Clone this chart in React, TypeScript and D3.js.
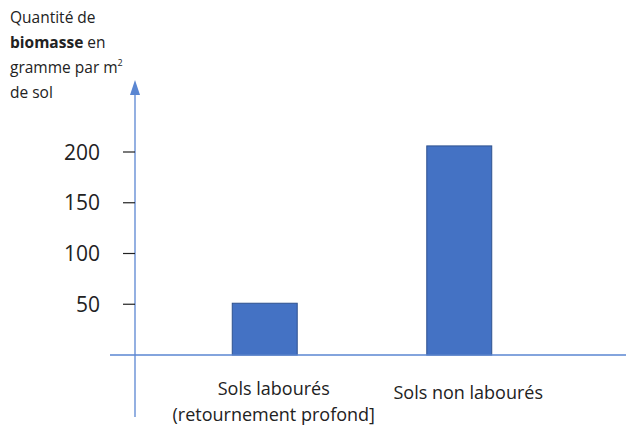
import { useMemo } from 'react'
import { scaleLinear, scaleBand } from 'd3'

// Biomass per m² of soil, ploughed vs. not ploughed.
const categories = ['Sols labourés', 'Sols non labourés']
const categoryLines = [['Sols labourés', '(retournement profond]'], ['Sols non labourés']]
const values = [51, 206]
const tickValues = [50, 100, 150, 200]
const titleLines = [
  [{ t: 'Quantité de', b: false }],
  [{ t: 'biomasse', b: true }, { t: ' en', b: false }],
  [{ t: 'gramme par m', b: false }, { t: '2', b: false, sup: true }],
  [{ t: 'de sol', b: false }],
]

const W = 626
const H = 426
const AXIS = '#5a86d2'
const BAR = '#4472c4'
const BAR_EDGE = '#2f528f'
const FONT = '"Open Sans", "Liberation Sans", sans-serif'

export default function App() {
  const ax = 135
  const base = 355
  const y = useMemo(() => scaleLinear().domain([0, 200]).range([base, 152]), [])
  const x = useMemo(
    () => scaleBand<string>().domain(categories).range([135, 589]).paddingInner(0.666).paddingOuter(0.5),
    [],
  )

  return (
    <svg width={W} height={H} style={{ position: 'absolute', left: 0, top: 0, background: '#fff' }} fontFamily={FONT}>
      {/* title, top left */}
      <text fontSize={15.5} fill="#222">
        {titleLines.map((ln, i) => (
          <tspan key={i} x={10} y={23 + i * 25}>
            {ln.map((s: any, j) =>
              s.sup ? (
                <tspan key={j} fontSize={9} dy={-7}>{s.t}</tspan>
              ) : (
                <tspan key={j} fontWeight={s.b ? 700 : 400}>{s.t}</tspan>
              ),
            )}
          </tspan>
        ))}
      </text>

      {/* bars */}
      {categories.map((c, i) => (
        <rect
          key={c}
          x={x(c)}
          y={y(values[i])}
          width={x.bandwidth()}
          height={base - y(values[i])}
          fill={BAR}
          stroke={BAR_EDGE}
          strokeWidth={1}
        />
      ))}

      {/* axes */}
      <line x1={110} x2={W} y1={base} y2={base} stroke={AXIS} strokeWidth={1.3} />
      <line x1={ax} x2={ax} y1={92} y2={417} stroke={AXIS} strokeWidth={1.3} />
      <path d={`M${ax},80 L${ax - 5},95 L${ax + 5},95 Z`} fill={AXIS} />

      {/* ticks */}
      {tickValues.map((v) => (
        <g key={v}>
          <line x1={123} x2={ax} y1={y(v)} y2={y(v)} stroke="#222" strokeWidth={1.2} />
          <text x={100} y={y(v)} dy="0.36em" textAnchor="end" fontSize={21} fill="#222">
            {v}
          </text>
        </g>
      ))}

      {/* category labels */}
      {categories.map((c, i) => (
        <text key={c} textAnchor="middle" fontSize={18} fill="#222">
          {categoryLines[i].map((l, k) => (
            <tspan key={k} x={x(c)! + x.bandwidth() / 2 + 9} y={(i === 0 ? 395 : 399) + k * 26}>
              {l}
            </tspan>
          ))}
        </text>
      ))}
    </svg>
  )
}
